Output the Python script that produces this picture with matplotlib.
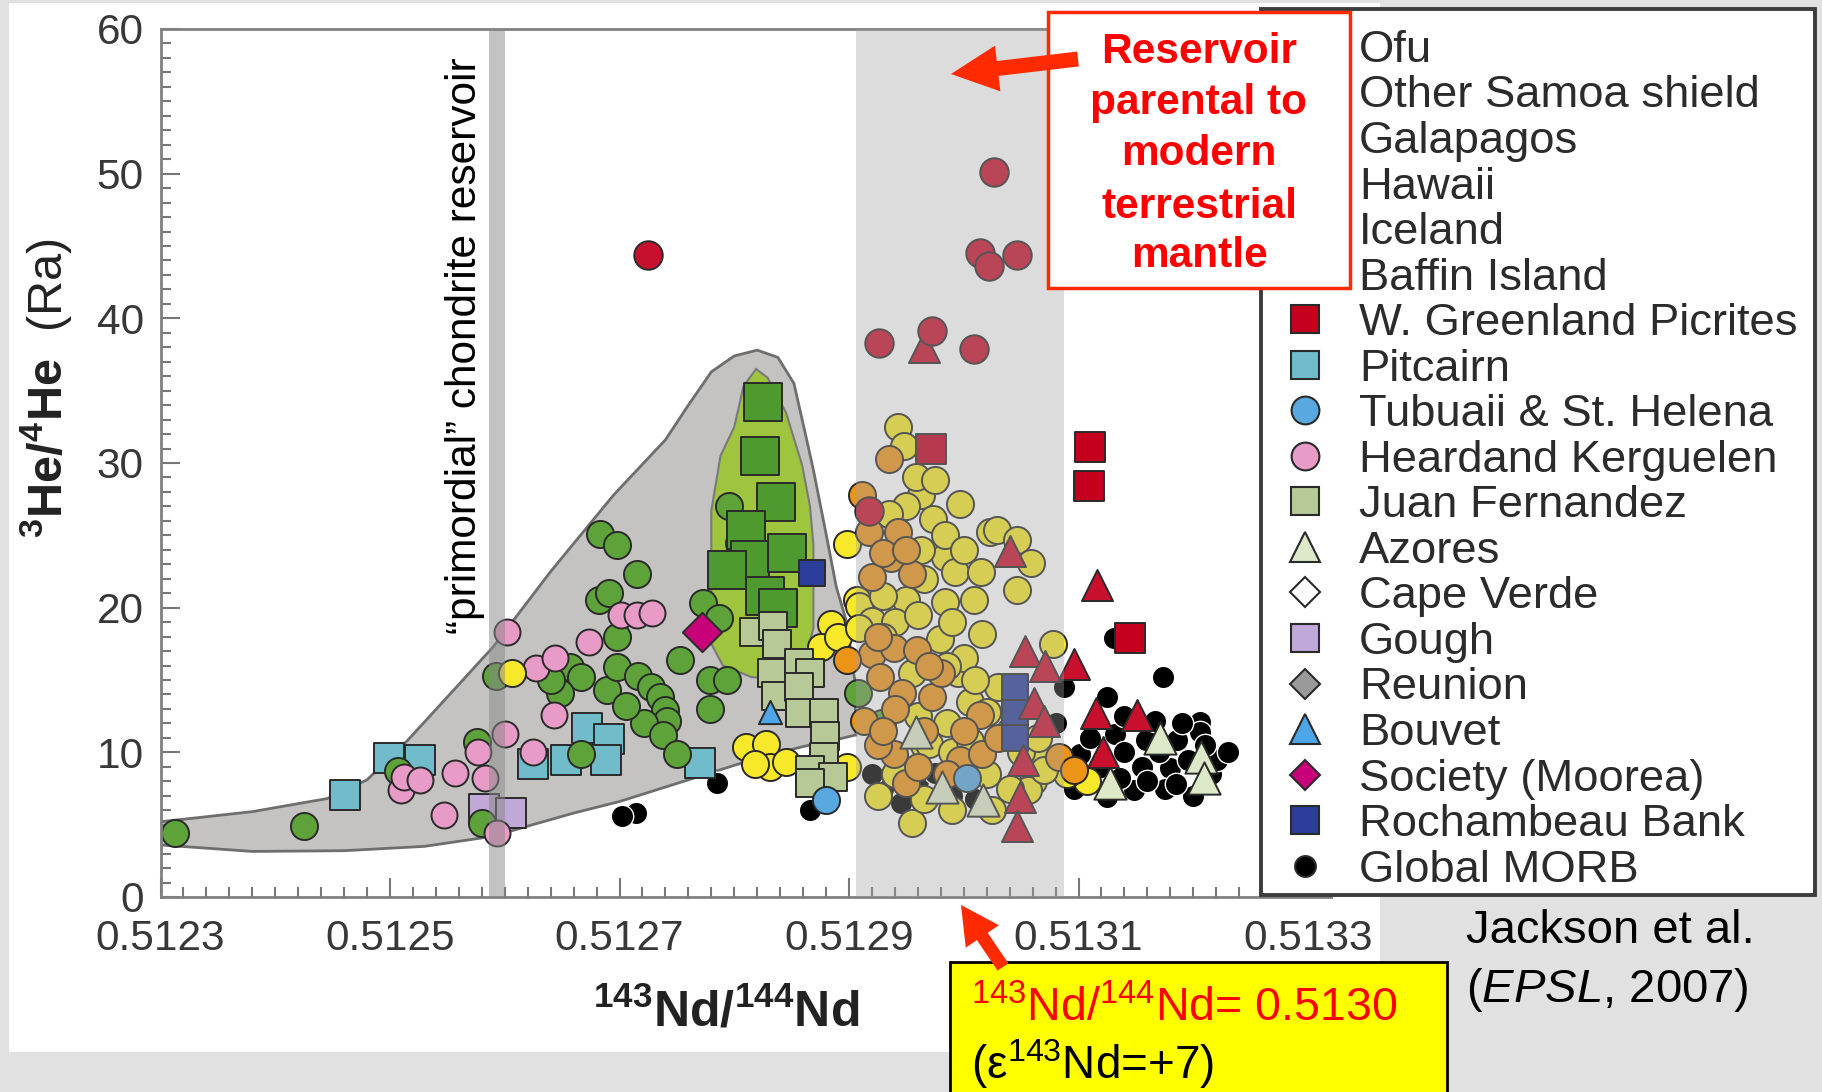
import matplotlib
matplotlib.use("Agg")
import matplotlib.pyplot as plt
from matplotlib.lines import Line2D
from matplotlib.patches import Polygon, Rectangle, FancyArrow
from matplotlib.ticker import MultipleLocator, FixedLocator, FixedFormatter
from matplotlib.transforms import IdentityTransform

plt.rcParams['font.family'] = ['Liberation Sans', 'DejaVu Sans']
plt.rcParams['mathtext.fontset'] = 'custom'
plt.rcParams['mathtext.rm'] = 'Liberation Sans'
plt.rcParams['mathtext.bf'] = 'Liberation Sans:bold'
plt.rcParams['mathtext.it'] = 'Liberation Sans:italic'

# ---- data: 143Nd/144Nd (x) and 3He/4He in Ra (y) ----
ofu_x = [0.512825, 0.512822, 0.512836, 0.512810, 0.512814, 0.512794, 0.512827, 0.512838, 0.512846]
ofu_y = [34.2, 30.5, 27.3, 25.4, 23.3, 22.6, 20.8, 20.0, 23.8]

samoa_x = [0.512313, 0.512425, 0.512507, 0.512576, 0.512580, 0.512592, 0.512683, 0.512698,
           0.512715, 0.512682, 0.512691, 0.512698, 0.512657, 0.512666, 0.512648, 0.512689,
           0.512698, 0.512716, 0.512727, 0.512735, 0.512740, 0.512741, 0.512721, 0.512738,
           0.512750, 0.512666, 0.512753, 0.512773, 0.512787, 0.512779, 0.512794, 0.512779,
           0.512795, 0.512804, 0.512908, 0.512929, 0.512706, 0.512640]
samoa_y = [4.4, 4.9, 8.7, 10.7, 5.1, 15.3, 25.1, 24.3, 22.3, 20.5, 21.0, 18.0, 15.9, 15.2,
           14.1, 14.3, 15.9, 15.3, 14.5, 13.8, 12.9, 12.2, 12.0, 11.2, 9.9, 9.9, 16.4, 20.3,
           19.3, 15.0, 15.0, 13.0, 27.0, 24.5, 14.1, 12.0, 13.2, 15.0]

galapagos_x = [0.512606, 0.512810, 0.512828, 0.512831, 0.512845, 0.512818, 0.512884, 0.512876,
               0.512898, 0.512907, 0.512898, 0.512890, 0.512943, 0.512948, 0.512963, 0.512997,
               0.512950, 0.512973, 0.513023, 0.512984, 0.512984, 0.512950, 0.512984, 0.513009,
               0.513016, 0.512979, 0.512909, 0.512920, 0.512909, 0.512955, 0.513029, 0.513046,
               0.513059, 0.513046, 0.513078, 0.513107, 0.512992, 0.512995, 0.513005, 0.512985,
               0.513030, 0.513040, 0.512965, 0.513020, 0.513060, 0.513090, 0.512940, 0.512963,
               0.513067, 0.513056, 0.512970,
               0.512930, 0.512960, 0.512990, 0.513000, 0.512985, 0.513010, 0.513020, 0.512960,
               0.512990, 0.513005, 0.512940, 0.512965, 0.512990, 0.513040, 0.513025, 0.512925,
               0.512935, 0.512958, 0.512975, 0.513000, 0.513015, 0.512965, 0.512930, 0.512955,
               0.513050, 0.513065, 0.513070]
galapagos_y = [15.5, 10.4, 10.6, 9.0, 9.3, 9.2, 18.9, 17.3, 9.0, 20.5, 24.4, 18.0, 32.5, 31.2,
               27.8, 27.2, 27.0, 26.1, 25.2, 23.5, 25.0, 20.5, 20.4, 20.5, 18.2, 17.8, 20.1,
               19.1, 18.6, 5.1, 25.4, 24.7, 23.1, 21.2, 17.5, 8.0, 22.5, 15.5, 13.5, 12.0, 14.5,
               11.5, 10.5, 8.5, 8.0, 8.5, 19.0, 24.0, 9.4, 7.4, 10.6,
               18.0, 19.5, 19.0, 16.5, 16.0, 15.0, 12.8, 12.5, 10.0, 10.8, 8.5, 6.8, 6.0, 7.5,
               6.0, 7.0, 26.5, 29.0, 28.8, 24.0, 22.5, 22.0, 20.8, 15.5, 10.0, 11.0, 8.8]

hawaii_x = [0.512935, 0.512911, 0.512917, 0.512943, 0.512937, 0.512920, 0.512955, 0.512920,
            0.512939, 0.512959, 0.512927, 0.512946, 0.512972, 0.512913, 0.512939, 0.512950,
            0.513014, 0.512997, 0.513016, 0.512898, 0.513083, 0.513096, 0.512925, 0.512965,
            0.513030, 0.512980, 0.512930, 0.512950, 0.512925, 0.512970, 0.512940, 0.512960,
            0.512985, 0.513000, 0.512930]
hawaii_y = [30.3, 27.8, 25.2, 25.2, 23.4, 22.1, 22.3, 16.8, 17.2, 17.1, 15.2, 14.1, 13.8, 12.2,
            9.9, 7.9, 12.6, 9.5, 9.9, 16.4, 9.7, 8.8, 10.5, 11.5, 11.0, 15.5, 23.8, 24.0, 18.0,
            16.0, 13.0, 9.0, 8.5, 11.5, 11.5]

iceland_x = [0.512965, 0.513040, 0.513116, 0.513053, 0.513071, 0.513096, 0.513061, 0.513070,
             0.513115, 0.513151, 0.513121, 0.513052, 0.513049, 0.513046]
iceland_y = [38.0, 23.9, 21.6, 17.0, 16.0, 16.1, 13.4, 12.2, 12.7, 12.6, 10.0, 9.5, 6.9, 4.9]

baffin_x = [0.512725, 0.513026, 0.513014, 0.513022, 0.513046, 0.512926, 0.512972, 0.513009, 0.512917]
baffin_y = [44.4, 50.1, 44.5, 43.6, 44.4, 38.3, 39.1, 37.9, 26.7]

greenland_x = [0.512971, 0.513110, 0.513109, 0.513145]
greenland_y = [31.0, 31.1, 28.4, 17.9]

pitcairn_x = [0.512461, 0.512499, 0.512526, 0.512625, 0.512653, 0.512672, 0.512691, 0.512688, 0.512770]
pitcairn_y = [7.05, 9.6, 9.5, 9.2, 9.5, 11.65, 10.95, 9.5, 9.25]

tubuaii_x = [0.513003, 0.512880]
tubuaii_y = [8.2, 6.7]

heard_x = [0.512510, 0.512512, 0.512526, 0.512557, 0.512547, 0.512577, 0.512583, 0.512600,
           0.512602, 0.512593, 0.512627, 0.512644, 0.512673, 0.512701, 0.512715, 0.512728,
           0.512643, 0.512625]
heard_y = [7.4, 8.3, 8.1, 8.55, 5.7, 10.0, 8.2, 11.3, 18.3, 4.4, 15.8, 16.5, 17.6, 19.5, 19.5,
           19.6, 12.6, 10.0]

juan_x = [0.512817, 0.512834, 0.512833, 0.512837, 0.512856, 0.512866, 0.512836, 0.512856,
          0.512857, 0.512878, 0.512879, 0.512878, 0.512866, 0.512886, 0.512866]
juan_y = [18.3, 18.7, 15.5, 17.5, 16.2, 15.5, 13.9, 14.5, 12.7, 12.7, 11.1, 9.7, 8.8, 8.3, 7.9]

azores_x = [0.512958, 0.512981, 0.513017, 0.513171, 0.513127, 0.513207, 0.513209]
azores_y = [11.4, 7.6, 6.7, 11.0, 7.9, 9.7, 8.2]

gough_x = [0.512582, 0.512605]
gough_y = [6.1, 5.8]

bouvet_x = [0.512831]
bouvet_y = [12.8]

society_x = [0.512772]
society_y = [18.3]

rochambeau_x = [0.512868, 0.513045, 0.513045, 0.513045]
rochambeau_y = [22.4, 14.5, 12.7, 11.0]

morb_x = [0.512785, 0.512714, 0.512702, 0.513131, 0.513174, 0.513125, 0.513087, 0.513206,
          0.513206, 0.513186, 0.513180, 0.513148, 0.513136, 0.513125, 0.513101, 0.513096,
          0.513159, 0.513167, 0.513132, 0.513215, 0.513221, 0.513195, 0.513155, 0.513110,
          0.513140, 0.513175, 0.513200, 0.512930, 0.512960, 0.512990, 0.512945, 0.513010,
          0.512975, 0.512920, 0.512866, 0.512880, 0.513080, 0.513190, 0.513120, 0.513170,
          0.513210, 0.513160, 0.513100, 0.513230, 0.513185, 0.513140]
morb_y = [7.9, 5.8, 5.6, 17.9, 15.2, 13.8, 14.5, 12.1, 11.4, 10.85, 8.9, 7.4, 8.2, 6.9, 9.9,
          7.5, 10.85, 12.2, 11.3, 8.5, 9.5, 9.5, 9.0, 11.0, 10.0, 7.5, 7.0, 7.5, 8.0, 7.0, 6.5,
          6.8, 8.6, 8.5, 6.0, 7.2, 12.0, 12.0, 9.0, 10.0, 10.5, 8.0, 8.5, 10.0, 7.8, 12.5]

# outline of the OIB field and the Ofu field
field_x = [0.5123, 0.51238, 0.512445, 0.51248, 0.512515, 0.512552, 0.51259, 0.51264, 0.512695,
           0.51274, 0.51276, 0.51278, 0.5128, 0.51282, 0.512838, 0.512852, 0.512862, 0.512869,
           0.51288, 0.512889, 0.512898, 0.512905, 0.512906, 0.51289, 0.51286, 0.51282, 0.51278,
           0.51274, 0.5127, 0.51266, 0.51262, 0.51259, 0.51253, 0.51246, 0.51238, 0.5123]
field_y = [5.2, 5.9, 6.8, 8.1, 10.8, 14.0, 17.3, 22.5, 27.8, 31.6, 34.0, 36.3, 37.4, 37.8, 37.3,
           35.5, 32.0, 29.5, 25.1, 21.4, 19.0, 15.0, 11.2, 10.9, 10.4, 9.6, 8.6, 7.6, 6.6, 5.8,
           4.9, 4.2, 3.5, 3.2, 3.15, 3.6]
ofu_field_x = [0.512800, 0.512808, 0.512819, 0.512829, 0.512845, 0.512859, 0.512866, 0.512869,
               0.512869, 0.512862, 0.512845, 0.512815, 0.512790, 0.512780, 0.512780, 0.512788]
ofu_field_y = [32.5, 35.3, 36.5, 35.9, 33.5, 29.9, 27.0, 24.3, 18.6, 16.5, 15.0, 15.2, 16.0,
               17.5, 26.7, 30.5]

x_ticks = [0.5123, 0.5125, 0.5127, 0.5129, 0.5131, 0.5133]
x_tick_labels = ["0.5123", "0.5125", "0.5127", "0.5129", "0.5131", "0.5133"]

W, H = 1822, 1092
EDGE = "#2a2a2a"


def fig_box(x0, y0, x1, y1):
    # pixel box with top-left origin -> figure fraction rect
    return (x0 / W, 1 - y1 / H, (x1 - x0) / W, (y1 - y0) / H)


def fpt(x, y):
    return (x / W, 1 - y / H)


def fig_rect(x0, y0, x1, y1, **kw):
    r = fig_box(x0, y0, x1, y1)
    return Rectangle(r[:2], r[2], r[3], transform=fig.transFigure, **kw)


fig = plt.figure(figsize=(W / 100, H / 100), dpi=100, facecolor="#e1e1e1")
fig.add_artist(fig_rect(9, 3, 1380, 1052, facecolor="white", edgecolor="none", zorder=-1))

ax = fig.add_axes(fig_box(160.5, 29, 1331, 897))
ax.set_xlim(0.5123, 0.51332)
ax.set_ylim(0, 60)
ax.set_facecolor("white")

ax.add_patch(Polygon(list(zip(field_x, field_y)), closed=True, facecolor="#c4c3c1",
                     edgecolor="#6e6e6e", lw=2, zorder=1))
ax.add_patch(Polygon(list(zip(ofu_field_x, ofu_field_y)), closed=True, facecolor="#9fc43e",
                     edgecolor="#7a7a7a", lw=1.5, zorder=1.5))


def pts(x, y, marker, color, s, edge=EDGE, lw=1.4, z=3):
    ax.scatter(x, y, marker=marker, s=s, facecolor=color, edgecolor=edge, linewidth=lw, zorder=z)


pts(morb_x, morb_y, "o", "black", 260, edge="white", lw=1.0, z=2)
pts(pitcairn_x, pitcairn_y, "s", "#70bccb", 470, z=2.2)
pts(gough_x, gough_y, "s", "#c0a8d8", 470, z=2.2)
pts(samoa_x, samoa_y, "o", "#5ea33a", 380, z=2.4)
pts(heard_x, heard_y, "o", "#e99bc7", 350, z=2.6)
pts(galapagos_x, galapagos_y, "o", "#f7e82a", 380, z=2.8)
pts(hawaii_x, hawaii_y, "o", "#ec9418", 380, z=3.0)
pts(ofu_x, ofu_y, "s", "#4e9a2f", 740, z=3.1)
pts(juan_x, juan_y, "s", "#b6c996", 400, z=3.2)
pts(tubuaii_x, tubuaii_y, "o", "#5aa8e0", 380, z=3.3)
pts(bouvet_x, bouvet_y, "^", "#4da6e8", 280, z=3.3)
pts(rochambeau_x, rochambeau_y, "s", "#2b3e9a", 340, z=3.4)
pts(azores_x, azores_y, "^", "#dde8c8", 540, z=3.5)
pts(iceland_x, iceland_y, "^", "#c8102e", 500, z=3.6)
pts(baffin_x, baffin_y, "o", "#c8102e", 420, z=3.7)
pts(greenland_x, greenland_y, "s", "#c4001e", 470, z=3.8)
pts(society_x, society_y, "D", "#c8007a", 400, z=3.9)

# translucent bands: chondrite value and the 0.5130 reservoir
ax.axvspan(0.512906, 0.513087, facecolor="#a0a0a0", alpha=0.37, lw=0, zorder=5)
ax.axvspan(0.512586, 0.512600, facecolor="#888888", alpha=0.5, lw=0, zorder=5)

ax.text(0.512565, 38.1, "\u201cprimordial\u201d chondrite reservoir", rotation=90,
        ha="center", va="center", fontsize=30.5, color="black", zorder=6)

for side in ("top", "left", "bottom"):
    ax.spines[side].set_color("#808080")
    ax.spines[side].set_linewidth(2)
ax.spines["right"].set_visible(False)

ax.xaxis.set_major_locator(FixedLocator(x_ticks))
ax.xaxis.set_major_formatter(FixedFormatter(x_tick_labels))
ax.xaxis.set_minor_locator(MultipleLocator(0.00002))
ax.yaxis.set_major_locator(MultipleLocator(10))
ax.yaxis.set_minor_locator(MultipleLocator(1))
ax.tick_params(which="both", direction="in", color="#777777", labelcolor="#383838",
               top=False, right=False, width=1.5)
ax.tick_params(which="major", length=14, labelsize=30.5)
ax.tick_params(which="minor", length=7)
ax.tick_params(axis="x", which="major", pad=16)
ax.tick_params(axis="y", which="major", pad=12)

fig.text(*fpt(726, 1027), r"$\mathbf{^{143}Nd/^{144}Nd}$", fontsize=36, ha="center",
         va="baseline", color="#222222")
fig.text(*fpt(46, 388), r"$\mathbf{^{3}He/^{4}He}$  (Ra)", fontsize=35, rotation=90,
         ha="center", va="center", color="#222222")

# legend: own frame box, entries laid out by fig.legend without its frame
legend_items = [
    ("Ofu", "s", "#4e9a2f", 20),
    ("Other Samoa shield", "o", "#5ea33a", 20),
    ("Galapagos", "o", "#f7e82a", 20),
    ("Hawaii", "o", "#ec9418", 20),
    ("Iceland", "^", "#c8102e", 21),
    ("Baffin Island", "o", "#c8102e", 20),
    ("W. Greenland Picrites", "s", "#c4001e", 20),
    ("Pitcairn", "s", "#70bccb", 20),
    ("Tubuaii & St. Helena", "o", "#5aa8e0", 20),
    ("Heardand Kerguelen", "o", "#e99bc7", 20),
    ("Juan Fernandez", "s", "#b6c996", 20),
    ("Azores", "^", "#dde8c8", 21),
    ("Cape Verde", "D", "white", 15),
    ("Gough", "s", "#c0a8d8", 20),
    ("Reunion", "D", "#9a9a9a", 15),
    ("Bouvet", "^", "#4da6e8", 21),
    ("Society (Moorea)", "D", "#c8007a", 15),
    ("Rochambeau Bank", "s", "#2b3e9a", 20),
    ("Global MORB", "o", "black", 15),
]
handles = [Line2D([], [], ls="none", marker=m, markerfacecolor=c, markeredgecolor=EDGE,
                  markeredgewidth=1.5, markersize=ms) for _, m, c, ms in legend_items]
labels = [lab for lab, _, _, _ in legend_items]
fig.add_artist(fig_rect(1261, 9, 1815, 895, facecolor="white", edgecolor="#3c3c3c",
                        lw=2.8, zorder=9))
b = fig_box(1261, 9, 1815, 895)
leg = fig.legend(handles, labels, loc="upper left", bbox_to_anchor=(b[0], b[1], b[2], b[3]),
                 mode="expand", borderaxespad=0, fontsize=32.7, labelspacing=0.10,
                 borderpad=0.46, handlelength=1.0, handletextpad=0.70, frameon=False,
                 labelcolor="#2b2b2b")
leg.set_zorder(10)

# red call-out box
fig.add_artist(fig_rect(1048, 12, 1350, 288, facecolor="white", edgecolor="#ff2a00",
                        lw=2.5, zorder=20))
for txt, yc in [("Reservoir", 52), ("parental to", 103), ("modern", 154),
                ("terrestrial", 207), ("mantle", 256)]:
    fig.text(*fpt(1199, yc), txt, fontsize=30.5, fontweight="bold", color="#ff0000",
             ha="center", va="center", zorder=21)

fig.add_artist(FancyArrow(1078, H - 59, -127, -15, width=15, head_width=46, head_length=47,
                          length_includes_head=True, transform=IdentityTransform(),
                          color="#ff2a00", lw=0, zorder=22))

# yellow note box
fig.add_artist(fig_rect(950, 962, 1447, 1100, facecolor="#ffff00", edgecolor="black",
                        lw=2, zorder=20))
fig.text(*fpt(971, 1021), r"$^{143}$Nd/$^{144}$Nd= 0.5130", fontsize=33.5, color="#ff0000",
         ha="left", va="baseline", zorder=21)
fig.text(*fpt(971, 1079), r"(ε$^{143}$Nd=+7)", fontsize=33, color="black",
         ha="left", va="baseline", zorder=21)
fig.add_artist(FancyArrow(1003, H - 967, -42, 62, width=13, head_width=40, head_length=38,
                          length_includes_head=True, transform=IdentityTransform(),
                          color="#ff2a00", lw=0, zorder=22))

fig.text(*fpt(1466, 943), "Jackson et al.", fontsize=34, color="black", ha="left", va="baseline")
fig.text(*fpt(1466, 1002), r"($\mathit{EPSL}$, 2007)", fontsize=34, color="black",
         ha="left", va="baseline")

fig.savefig("out.png", dpi=100, facecolor=fig.get_facecolor())
